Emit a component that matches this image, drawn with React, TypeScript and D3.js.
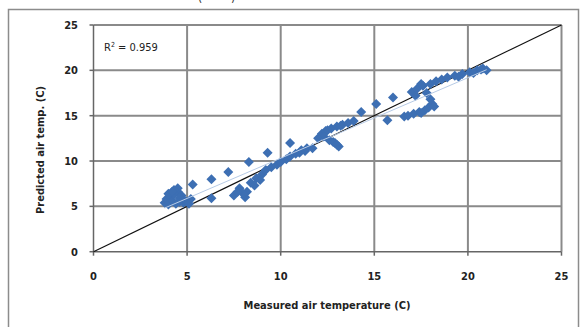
import * as d3 from "d3";

// measured vs predicted air temperature (C)
const measured = [
  3.8, 3.9, 4.0, 4.1, 4.2, 4.3, 4.4, 4.5, 4.5, 4.6, 4.7, 4.8, 4.9, 5.0, 5.2, 5.3, 4.3, 4.0, 4.6, 4.2, 5.1,
  6.3, 6.3, 7.2, 8.3, 9.3, 7.5, 7.8, 8.2, 8.4, 8.7, 9.0, 8.1, 8.0, 8.6, 8.9, 7.7,
  9.2, 9.5, 9.8, 10.0, 10.3, 10.5, 10.8, 11.1, 11.4, 11.7, 10.5, 11.0, 11.3,
  12.2, 12.4, 12.7, 13.0, 13.3, 13.6, 13.9, 12.3, 12.6, 12.9, 13.1, 12.0, 12.5, 12.8, 13.2, 13.0,
  14.3, 15.1, 16.0, 15.7, 16.6,
  16.8, 17.1, 17.4, 17.7, 17.9, 18.1, 18.0, 18.2, 17.5,
  17.0, 17.3, 17.6, 17.8, 18.0, 18.3, 18.6, 18.9, 19.3, 19.7, 20.1, 20.5, 20.8, 21.0, 20.3, 17.5,
  17.2, 19.5, 20.7,
];
const predicted = [
  5.4, 5.8, 5.2, 6.0, 5.6, 6.3, 5.3, 6.6, 7.0, 5.5, 6.2, 5.4, 5.6, 5.5, 5.8, 7.4, 6.8, 6.4, 5.9, 6.6, 5.3,
  8.0, 5.9, 8.8, 9.9, 10.9, 6.2, 7.0, 6.6, 7.6, 8.1, 8.5, 6.0, 6.4, 7.3, 7.9, 6.6,
  9.0, 9.3, 9.6, 9.9, 10.2, 10.5, 10.8, 11.2, 11.4, 11.4, 12.0, 10.9, 11.1,
  13.0, 13.3, 13.6, 13.8, 14.0, 14.2, 14.4, 12.7, 12.3, 12.0, 11.6, 12.5, 13.4, 12.1, 13.9, 11.8,
  15.4, 16.3, 17.0, 14.5, 14.9,
  15.0, 15.2, 15.4, 15.6, 15.9, 16.3, 16.8, 16.0, 15.3,
  17.6, 18.0, 18.3, 17.5, 18.5, 18.8, 19.0, 19.2, 19.4, 19.6, 19.8, 20.0, 20.2, 20.0, 19.7, 18.5,
  17.2, 19.3, 20.1,
];
const ticks = [0, 5, 10, 15, 20, 25];
const rSquared = "0.959";

const points = measured.map((m, i) => ({ m, p: predicted[i] }));

// least squares trend line (Excel style)
const meanX = d3.mean(measured)!;
const meanY = d3.mean(predicted)!;
const slope =
  d3.sum(points, (d) => (d.m - meanX) * (d.p - meanY)) /
  d3.sum(points, (d) => (d.m - meanX) ** 2);
const intercept = meanY - slope * meanX;
const [minX, maxX] = d3.extent(measured) as [number, number];

const font = "'DejaVu Sans Condensed', 'Liberation Sans Narrow', sans-serif";

export default function App() {
  const left = 93.5;
  const right = 561.5;
  const top = 25;
  const bottom = 251.7;

  const x = d3.scaleLinear().domain([0, 25]).range([left, right]);
  const y = d3.scaleLinear().domain([0, 25]).range([bottom, top]);

  const diamond = (cx: number, cy: number, r: number) =>
    `M${cx},${cy - r}L${cx + r},${cy}L${cx},${cy + r}L${cx - r},${cy}Z`;

  return (
    <svg
      width={584}
      height={327}
      style={{ position: "absolute", left: 0, top: 0, background: "#fff" }}
    >
      <text x={198} y={2} fontFamily={font} fontSize={12} fill="#333">(</text>
      <text x={231} y={2} fontFamily={font} fontSize={12} fill="#333">)</text>
      <rect x={8.5} y={9.5} width={570} height={340} fill="none" stroke="#8c8c8c" strokeWidth={1.5} />

      {/* grid */}
      {ticks.slice(1).map((t) => (
        <line key={"gx" + t} x1={x(t)} x2={x(t)} y1={top} y2={bottom} stroke="#8a8a8a" strokeWidth={2} />
      ))}
      {ticks.slice(1).map((t) => (
        <line key={"gy" + t} x1={left} x2={right} y1={y(t)} y2={y(t)} stroke="#8a8a8a" strokeWidth={2} />
      ))}

      {/* axes */}
      <line x1={left} x2={right} y1={bottom} y2={bottom} stroke="#666" strokeWidth={1.5} />
      <line x1={left} x2={left} y1={top} y2={bottom} stroke="#666" strokeWidth={1.5} />
      {ticks.map((t) => (
        <g key={"tx" + t}>
          <line x1={x(t)} x2={x(t)} y1={bottom} y2={bottom + 4} stroke="#666" strokeWidth={1.5} />
          <text x={x(t)} y={280} textAnchor="middle" fontFamily={font} fontSize={11} fontWeight="bold" fill="#222">
            {t}
          </text>
        </g>
      ))}
      {ticks.map((t) => (
        <g key={"ty" + t}>
          <line x1={left - 4} x2={left} y1={y(t)} y2={y(t)} stroke="#666" strokeWidth={1.5} />
          <text x={78} y={y(t) + 4} textAnchor="end" fontFamily={font} fontSize={11} fontWeight="bold" fill="#222">
            {t}
          </text>
        </g>
      ))}

      {/* 1:1 line */}
      <line x1={x(0)} y1={y(0)} x2={x(25)} y2={y(25)} stroke="#111" strokeWidth={1.2} />

      {/* markers */}
      {points.map((d, i) => (
        <path key={i} d={diamond(x(d.m), y(d.p), 5)} fill="#3d6fb3" />
      ))}

      {/* trend line */}
      <line
        x1={x(minX)}
        y1={y(intercept + slope * minX)}
        x2={x(maxX)}
        y2={y(intercept + slope * maxX)}
        stroke="#b7cbe6"
        strokeWidth={1}
      />

      <text x={104} y={51} fontFamily={font} fontSize={11} fill="#222">
        R<tspan dy={-4} fontSize={7}>2</tspan>
        <tspan dy={4}> = {rSquared}</tspan>
      </text>

      <text x={327} y={309} textAnchor="middle" fontFamily={font} fontSize={11} fontWeight="bold" fill="#222">
        Measured air temperature (C)
      </text>
      <text
        transform="translate(44,150) rotate(-90)"
        textAnchor="middle"
        fontFamily={font}
        fontSize={11}
        fontWeight="bold"
        fill="#222"
      >
        Predicted air temp. (C)
      </text>
    </svg>
  );
}
